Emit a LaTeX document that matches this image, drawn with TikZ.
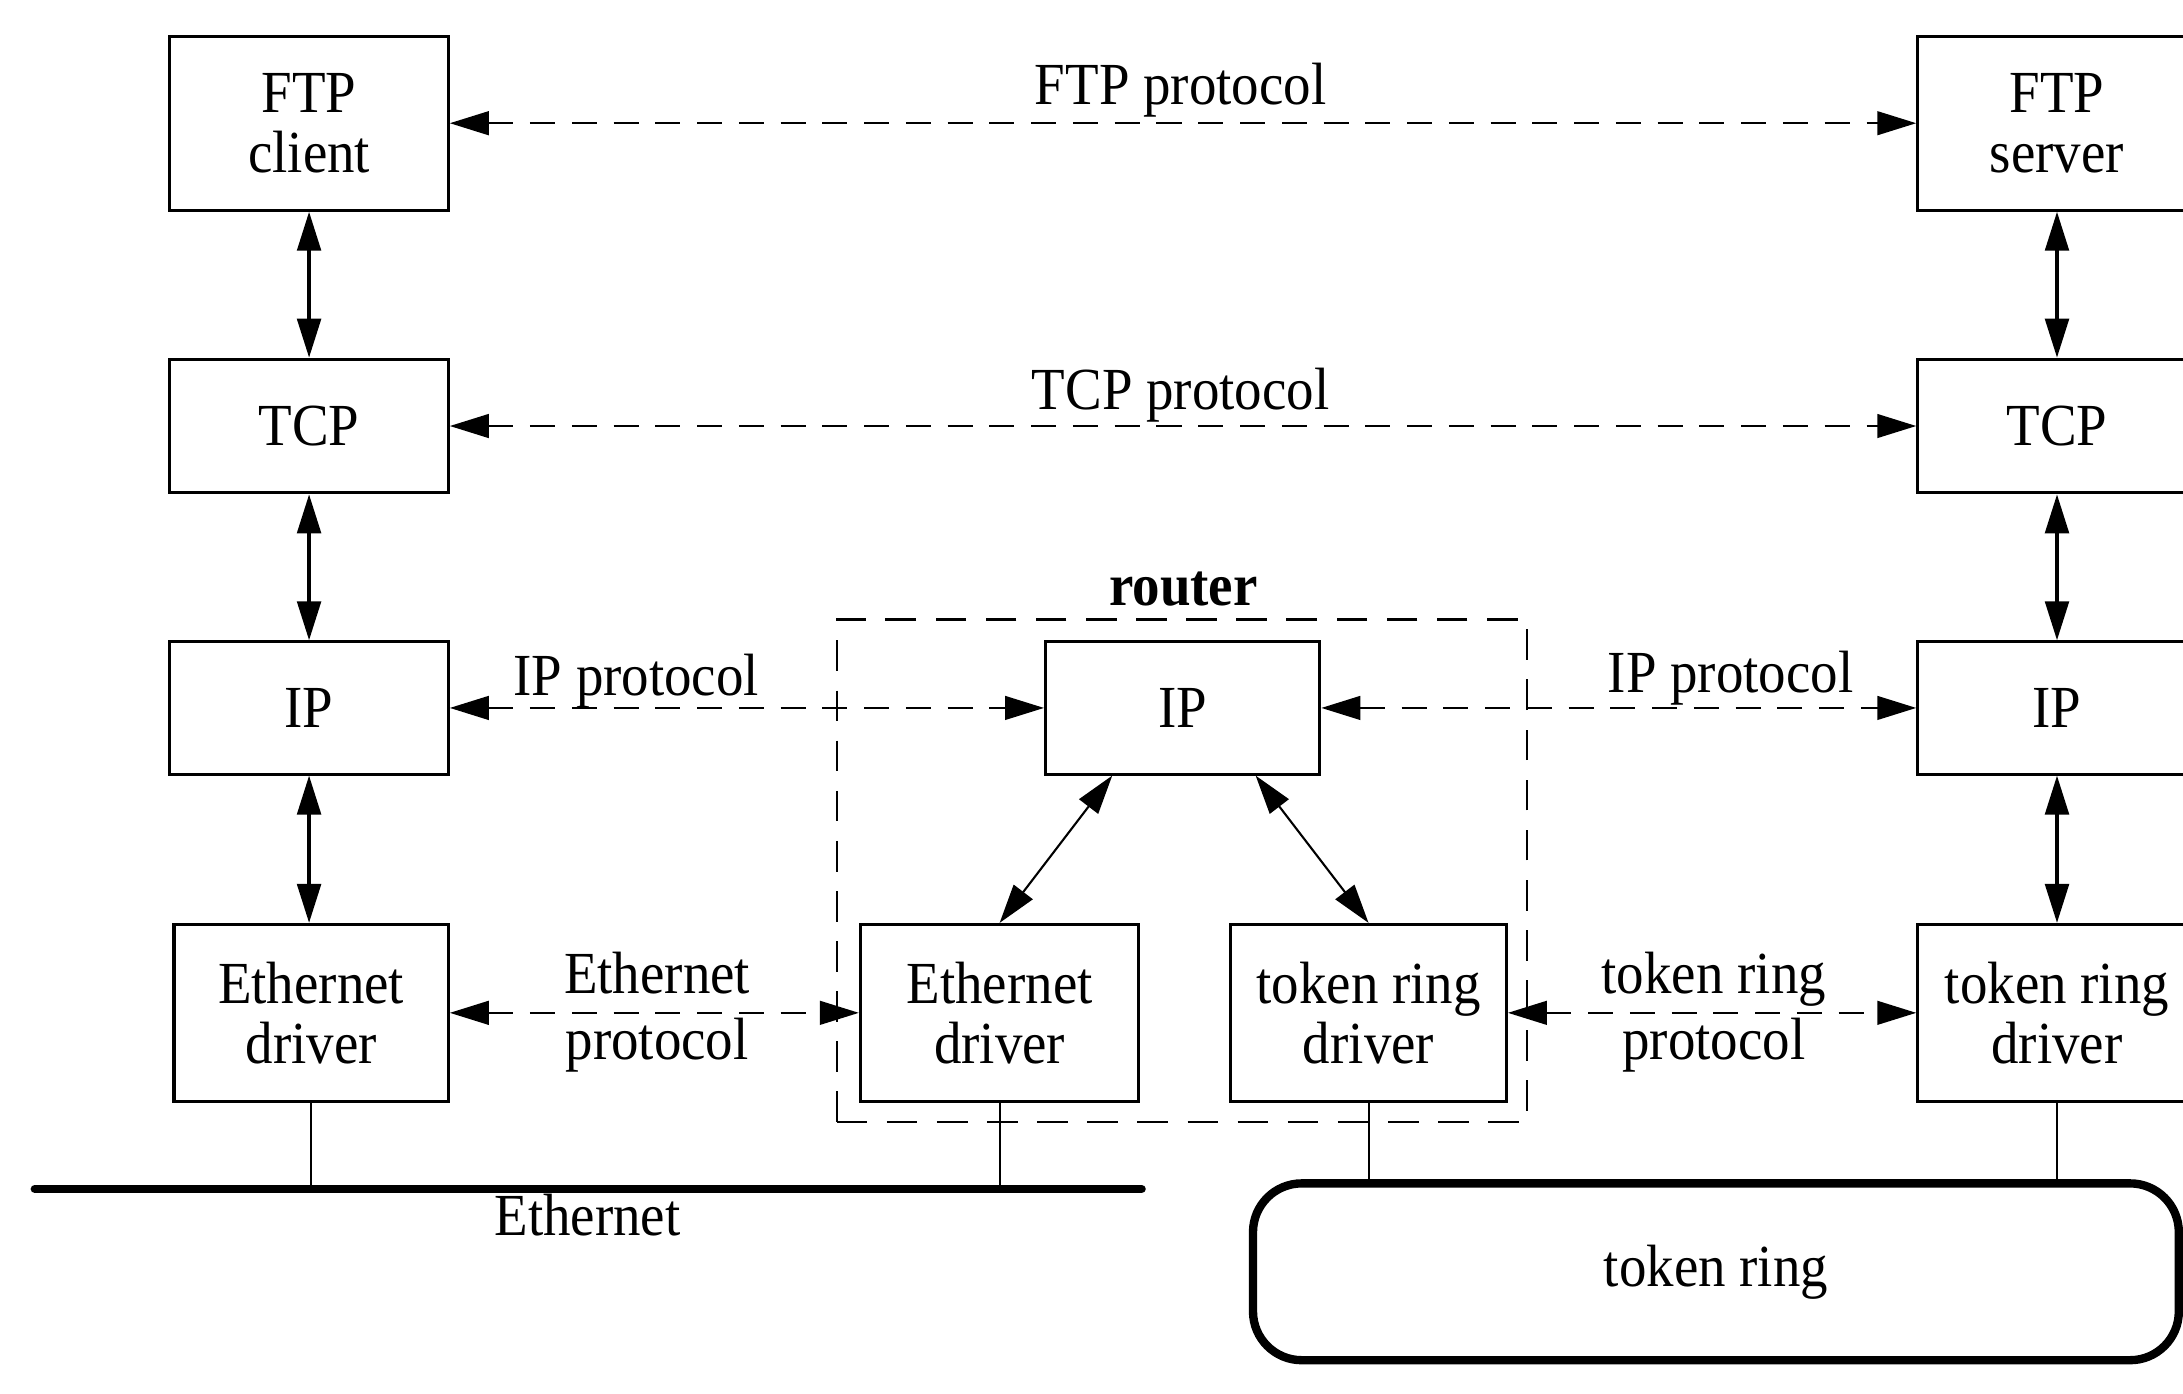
\documentclass[tikz,border=0pt]{standalone}
\usepackage{fontspec}
\setmainfont{Liberation Serif}[FakeStretch=0.92]
\usetikzlibrary{arrows.meta}
\tikzset{
  lbl/.style={font=\fontsize{12.2}{12.2}\selectfont, align=center, inner sep=0pt},
  twoline/.style={lbl, font=\fontsize{12.2}{13.4}\selectfont},
  layerbox/.style={lbl, draw, line width=0.22mm},
  updown/.style={{Triangle[length=2.8mm,width=1.7mm]}-{Triangle[length=2.8mm,width=1.7mm]}, line width=0.25mm},
  proto/.style={{Triangle[length=2.8mm,width=1.7mm]}-{Triangle[length=2.8mm,width=1.7mm]}, line width=0.17mm, dash pattern=on 1.8mm off 1.2mm},
  diag/.style={{Triangle[length=2.8mm,width=1.7mm]}-{Triangle[length=2.8mm,width=1.7mm]}, line width=0.15mm},
  drop/.style={line width=0.15mm},
  bus/.style={line width=0.6mm, line cap=round},
  routerframe/.style={draw, line width=0.17mm, dash pattern=on 2.2mm off 1.4mm, inner sep=0pt},
}
\begin{document}
\begin{tikzpicture}[x=0.1mm,y=-0.1mm]
\useasboundingbox (0,0) rectangle (1568,1001);
\begin{scope}
\clip (0,0) rectangle (1568,1001);
% left host
\node[layerbox, minimum width=20mm, minimum height=12.5mm] (ftpc) at (222,88.5) {FTP\\client};
\node[layerbox, minimum width=20mm, minimum height=9.6mm] (tcpl) at (222,306) {TCP};
\node[layerbox, minimum width=20mm, minimum height=9.5mm] (ipl) at (222,508.5) {IP};
\node[layerbox, minimum width=19.7mm, minimum height=12.7mm] (ethl) at (223.5,727.5) {Ethernet\\driver};
% right host
\node[layerbox, minimum width=20mm, minimum height=12.5mm] (ftps) at (1477.5,88.5) {FTP\\server};
\node[layerbox, minimum width=20mm, minimum height=9.6mm] (tcpr) at (1477.5,306) {TCP};
\node[layerbox, minimum width=20mm, minimum height=9.5mm] (ipr) at (1477.5,508.5) {IP};
\node[layerbox, minimum width=20mm, minimum height=12.7mm] (trr) at (1477.5,727.5) {token ring\\driver};
% router
\node[routerframe, minimum width=49.6mm, minimum height=36.1mm] (router) at (849,625.5) {};
\node[lbl, font=\fontsize{12.2}{12.2}\selectfont\bfseries] (routerlbl) at (850,423) {router};
\node[layerbox, minimum width=19.7mm, minimum height=9.5mm] (ipm) at (849.5,508.5) {IP};
\node[layerbox, minimum width=20mm, minimum height=12.7mm] (ethm) at (718,727.5) {Ethernet\\driver};
\node[layerbox, minimum width=19.8mm, minimum height=12.7mm] (trm) at (983,727.5) {token ring\\driver};
% networks
\coordinate (busW) at (25,854);
\coordinate (busE) at (820,854);
\draw[bus] (busW) -- (busE);
\node[lbl] (ethlbl) at (422,873) {Ethernet};
\node[lbl, draw, line width=0.6mm, rounded corners=3.5mm, minimum width=66.5mm, minimum height=12.7mm] (ring) at (1232.5,913.5) {token ring};
\draw[drop] (ethl.south) -- (ethl.south |- busW);
\draw[drop] (ethm.south) -- (ethm.south |- busW);
\draw[drop] (trm.south) -- (trm.south |- ring.north);
\draw[drop] (trr.south) -- (trr.south |- ring.north);
% vertical stacks
\draw[updown] (ftpc.south) -- (tcpl.north);
\draw[updown] (tcpl.south) -- (ipl.north);
\draw[updown] (ipl.south) -- (ipl.south |- ethl.north);
\draw[updown] (ftps.south) -- (tcpr.north);
\draw[updown] (tcpr.south) -- (ipr.north);
\draw[updown] (ipr.south) -- (trr.north);
\draw[diag] ([xshift=4.9mm]ipm.south west) -- (ethm.north);
\draw[diag] ([xshift=15.2mm]ipm.south west) -- (trm.north);
% peer protocols
\draw[proto] (ftpc.east) -- (ftps.west);
\node[lbl] (ftpp) at (848,65) {FTP protocol};
\draw[proto] (tcpl.east) -- (tcpr.west);
\node[lbl] (tcpp) at (848,284) {TCP protocol};
\draw[proto] (ipl.east) -- (ipm.west);
\node[lbl] (ippl) at (457,489) {IP protocol};
\draw[proto] (ipm.east) -- (ipr.west);
\node[lbl] (ippr) at (1243,487) {IP protocol};
\draw[proto] (ethl.east) -- (ethm.west);
\node[twoline] (ethp) at (472,727) {Ethernet\\protocol};
\draw[proto] (trm.east) -- (trr.west);
\node[twoline] (trp) at (1231,727) {token ring\\protocol};
\end{scope}
\end{tikzpicture}
\end{document}
